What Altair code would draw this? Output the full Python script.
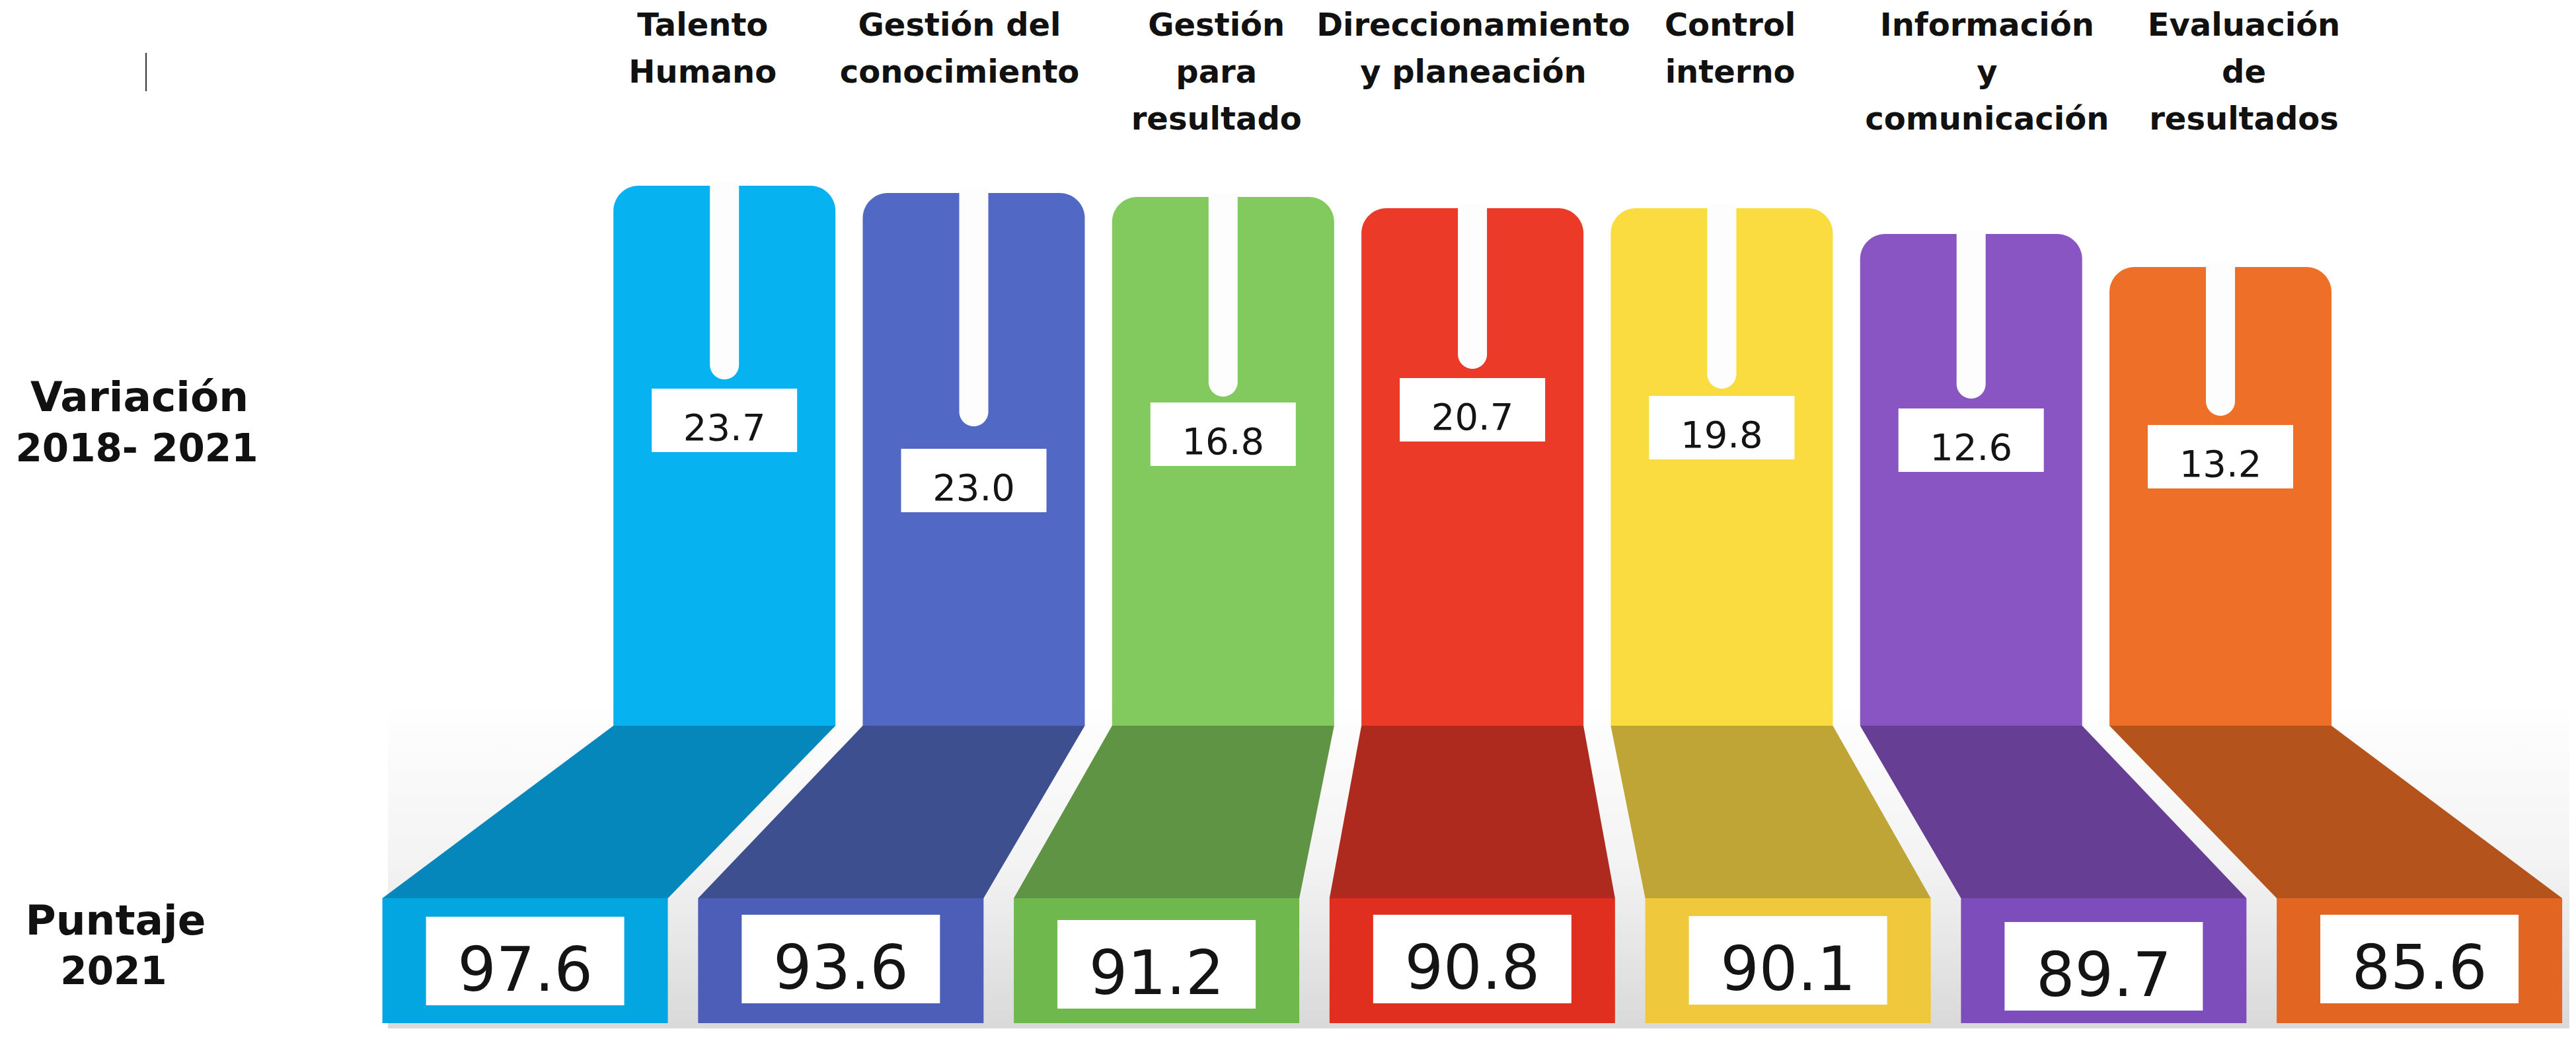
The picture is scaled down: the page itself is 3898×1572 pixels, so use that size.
import altair as alt
import pandas as pd

# ---------------- data ----------------
categories = ["Talento Humano", "Gestión del conocimiento", "Gestión para resultado",
              "Direccionamiento y planeación", "Control interno",
              "Información y comunicación", "Evaluación de resultados"]
header_lines = [["Talento", "Humano"], ["Gestión del", "conocimiento"],
                ["Gestión", "para", "resultado"], ["Direccionamiento", "y planeación"],
                ["Control", "interno"], ["Información", "y", "comunicación"],
                ["Evaluación", "de", "resultados"]]
variacion = [23.7, 23.0, 16.8, 20.7, 19.8, 12.6, 13.2]
puntaje = [97.6, 93.6, 91.2, 90.8, 90.1, 89.7, 85.6]
row_labels = [["Variación", "2018- 2021"], ["Puntaje", "2021"]]

# ---------------- styles ----------------
color_bar = ["#06B3F0", "#5168C5", "#82C95E", "#EB3A27", "#FBDC40", "#8855C3", "#EE6F27"]
color_shade = ["#0587BC", "#3E4F8F", "#5E9443", "#AE2A1F", "#BEA535", "#663E93", "#B4531B"]
color_base = ["#04A6E2", "#4C5EB8", "#6FB84D", "#E12F1F", "#EFC93B", "#7D4EBB", "#E36522"]

# ---------------- layout (reference pixel space) ----------------
W, H = 3880, 1548
X0, Y0 = 8, 8
bar_top = [281, 292, 298, 315, 315, 354, 404]
slot_end = [574, 645, 600, 558, 588, 603, 629]
vbox_top = [588, 679, 609, 572, 599, 618, 643]
pbox_top = [1387, 1384, 1392, 1384, 1386, 1395, 1384]
BAR_BOTTOM, BASE_TOP, BASE_BOTTOM = 1098, 1359, 1548


def bar_cx(i):
    return 1096.2 + 377.3 * i


def base_cx(i):
    return 794.6 + 477.75 * i


def head_cx(i):
    return 1063.3 + 388.7 * i


n = len(categories)
bars = pd.DataFrame({
    "cat": categories,
    "x1": [bar_cx(i) - 168 for i in range(n)],
    "x2": [bar_cx(i) + 168 for i in range(n)],
    "y1": bar_top,
    "y2": [BAR_BOTTOM] * n,
    "color": color_bar,
})
slots = pd.DataFrame({
    "x1": [bar_cx(i) - 22 for i in range(n)],
    "x2": [bar_cx(i) + 22 for i in range(n)],
    "y1": [t - 6 for t in bar_top],
    "y2": slot_end,
})
trap_rows = []
for i in range(n):
    trap_rows.append({"cat": categories[i], "y": BAR_BOTTOM, "xl": bar_cx(i) - 168,
                      "xr": bar_cx(i) + 168, "color": color_shade[i]})
    trap_rows.append({"cat": categories[i], "y": BASE_TOP, "xl": base_cx(i) - 216,
                      "xr": base_cx(i) + 216, "color": color_shade[i]})
traps = pd.DataFrame(trap_rows)
bases = pd.DataFrame({
    "x1": [base_cx(i) - 216 for i in range(n)],
    "x2": [base_cx(i) + 216 for i in range(n)],
    "y1": [BASE_TOP] * n,
    "y2": [BASE_BOTTOM] * n,
    "color": color_base,
})
vboxes = pd.DataFrame({
    "x1": [bar_cx(i) - 110 for i in range(n)],
    "x2": [bar_cx(i) + 110 for i in range(n)],
    "cx": [bar_cx(i) for i in range(n)],
    "y1": vbox_top,
    "y2": [t + 96 for t in vbox_top],
    "ty": [t + 78 for t in vbox_top],
    "v": variacion,
})
pboxes = pd.DataFrame({
    "x1": [base_cx(i) - 150 for i in range(n)],
    "x2": [base_cx(i) + 150 for i in range(n)],
    "cx": [base_cx(i) for i in range(n)],
    "y1": pbox_top,
    "y2": [t + 134 for t in pbox_top],
    "ty": [t + 112 for t in pbox_top],
    "v": puntaje,
})
head_rows = []
for i, lines in enumerate(header_lines):
    for j, line in enumerate(lines):
        head_rows.append({"t": line, "x": head_cx(i), "y": 54 + 71 * j})
heads = pd.DataFrame(head_rows)
left = pd.DataFrame({
    "t": row_labels[0] + row_labels[1],
    "x": [211, 207, 175, 172],
    "y": [622, 698, 1414, 1489],
    "fs": [63, 58, 63, 58],
})
bg = pd.DataFrame({"x1": [587], "x2": [X0 + W], "y1": [1060], "y2": [Y0 + H]})
tick = pd.DataFrame({"x": [221], "y1": [80], "y2": [138]})

xs = alt.Scale(domain=[X0, X0 + W], nice=False, zero=False)
ys = alt.Scale(domain=[Y0, Y0 + H], reverse=True, nice=False, zero=False)


def X(f, **kw):
    return alt.X(f, scale=xs, axis=None, **kw)


def Y(f, **kw):
    return alt.Y(f, scale=ys, axis=None, **kw)


grad = {"gradient": "linear", "x1": 0, "x2": 0, "y1": 0, "y2": 1,
        "stops": [{"offset": 0, "color": "#FFFFFF"},
                  {"offset": 0.5, "color": "#F3F3F3"},
                  {"offset": 1, "color": "#D9D9D9"}]}

bg_l = alt.Chart(bg).mark_rect(color=grad).encode(
    x=X("x1:Q"), x2="x2:Q", y=Y("y1:Q"), y2="y2:Q")

bars_l = alt.Chart(bars).mark_bar(cornerRadiusTopLeft=38, cornerRadiusTopRight=38).encode(
    x=X("x1:Q"), x2="x2:Q", y=Y("y1:Q"), y2="y2:Q",
    color=alt.Color("color:N", scale=None))

slots_l = alt.Chart(slots).mark_bar(color="#FDFDFD", cornerRadiusBottomLeft=22,
                                     cornerRadiusBottomRight=22).encode(
    x=X("x1:Q"), x2="x2:Q", y=Y("y1:Q"), y2="y2:Q")

traps_l = alt.Chart(traps).mark_area(orient="horizontal").encode(
    y=Y("y:Q"), x=X("xl:Q", stack=None), x2="xr:Q",
    color=alt.Color("color:N", scale=None), detail="cat:N")

bases_l = alt.Chart(bases).mark_rect().encode(
    x=X("x1:Q"), x2="x2:Q", y=Y("y1:Q"), y2="y2:Q",
    color=alt.Color("color:N", scale=None))

vbox_l = alt.Chart(vboxes).mark_rect(color="white").encode(
    x=X("x1:Q"), x2="x2:Q", y=Y("y1:Q"), y2="y2:Q")
vtxt_l = alt.Chart(vboxes).mark_text(font="DejaVu Sans", fontSize=56, color="#141414",
                                     align="center", baseline="alphabetic").encode(
    x=X("cx:Q"), y=Y("ty:Q"), text=alt.Text("v:Q", format=".1f"))

pbox_l = alt.Chart(pboxes).mark_rect(color="white").encode(
    x=X("x1:Q"), x2="x2:Q", y=Y("y1:Q"), y2="y2:Q")
ptxt_l = alt.Chart(pboxes).mark_text(font="DejaVu Sans", fontSize=92, color="#141414",
                                     align="center", baseline="alphabetic").encode(
    x=X("cx:Q"), y=Y("ty:Q"), text=alt.Text("v:Q", format=".1f"))

head_l = alt.Chart(heads).mark_text(font="DejaVu Sans", fontWeight="bold", fontSize=48,
                                    color="#111111", align="center",
                                    baseline="alphabetic").encode(
    x=X("x:Q"), y=Y("y:Q"), text="t:N")

left_l = alt.Chart(left).mark_text(font="DejaVu Sans", fontWeight="bold",
                                   color="#111111", align="center",
                                   baseline="alphabetic").encode(
    x=X("x:Q"), y=Y("y:Q"), text="t:N", size=alt.Size("fs:Q", scale=None))

tick_l = alt.Chart(tick).mark_rule(color="#333333", strokeWidth=2).encode(
    x=X("x:Q"), y=Y("y1:Q"), y2="y2:Q")

chart = alt.layer(
    bg_l, traps_l, bases_l, bars_l, slots_l, vbox_l, vtxt_l, pbox_l, ptxt_l,
    head_l, left_l, tick_l
).properties(
    width=W, height=H, padding=0,
    autosize=alt.AutoSizeParams(type="none"),
    background="white",
).configure_view(stroke=None)

chart.save("out.html", embed_options={"renderer": "svg", "actions": False})
